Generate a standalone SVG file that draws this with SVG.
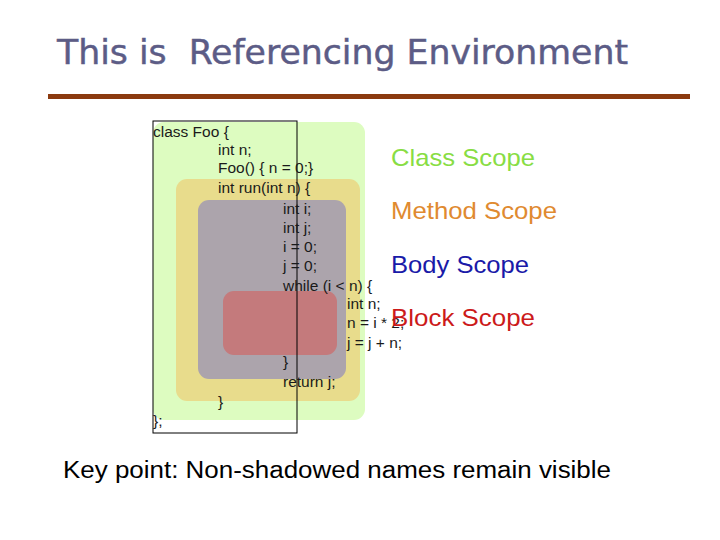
<svg xmlns="http://www.w3.org/2000/svg" width="720" height="540" viewBox="0 0 720 540">
<style>
.code{font-family:"Liberation Sans",Arial,sans-serif;font-size:15.5px;fill:#1a1a1a}
.lbl{font-family:"Liberation Sans",Arial,sans-serif;font-size:24px}
</style>
<rect width="720" height="540" fill="#ffffff"/>
<g id="title">
<text x="57" y="64" font-family="DejaVu Sans Condensed, DejaVu Sans, sans-serif" font-size="33" fill="#5c5c86" stroke="#5c5c86" stroke-width="0.4" textLength="571" lengthAdjust="spacingAndGlyphs" xml:space="preserve">This is  Referencing Environment</text>
<rect x="48" y="94" width="642" height="5" fill="#8b3a0f"/>
</g>
<g id="scopes">
<rect id="class-scope" x="153" y="122" width="212" height="298" rx="11" fill="#ddfcc0"/>
<rect id="method-scope" x="176" y="179" width="184" height="222" rx="11" fill="#e8dc8c"/>
<rect id="body-scope" x="198" y="200" width="148" height="179" rx="11" fill="#aca4ac"/>
<rect id="block-scope" x="223" y="291" width="114" height="64" rx="11" fill="#c47a7c"/>
<rect id="outline" x="153" y="121" width="144" height="312" fill="none" stroke="#000" stroke-width="1"/>
</g>
<g id="code">
<text class="code" x="153" y="137">class Foo {</text>
<text class="code" x="218" y="155">int n;</text>
<text class="code" x="218" y="173">Foo() { n = 0;}</text>
<text class="code" x="218" y="193">int run(int n) {</text>
<text class="code" x="283" y="214">int i;</text>
<text class="code" x="283" y="233">int j;</text>
<text class="code" x="283" y="252">i = 0;</text>
<text class="code" x="283" y="271">j = 0;</text>
<text class="code" x="283" y="291">while (i &lt; n) {</text>
<text class="code" x="347" y="309">int n;</text>
<text class="code" x="347" y="328">n = i * 2;</text>
<text class="code" x="347" y="348">j = j + n;</text>
<text class="code" x="283" y="367">}</text>
<text class="code" x="283" y="387">return j;</text>
<text class="code" x="218" y="407">}</text>
<text class="code" x="153" y="426">};</text>
</g>
<g id="labels">
<text class="lbl" x="391" y="166" fill="#88dd44" textLength="144" lengthAdjust="spacingAndGlyphs">Class Scope</text>
<text class="lbl" x="391" y="219" fill="#e08a30" textLength="166" lengthAdjust="spacingAndGlyphs">Method Scope</text>
<text class="lbl" x="391" y="273" fill="#1a1aa8" textLength="138" lengthAdjust="spacingAndGlyphs">Body Scope</text>
<text class="lbl" x="391" y="326" fill="#cc1a1a" textLength="144" lengthAdjust="spacingAndGlyphs">Block Scope</text>
</g>
<text x="63" y="478" font-family="Liberation Sans, Arial, sans-serif" font-size="23" fill="#000" textLength="548" lengthAdjust="spacingAndGlyphs">Key point: Non-shadowed names remain visible</text>
</svg>
